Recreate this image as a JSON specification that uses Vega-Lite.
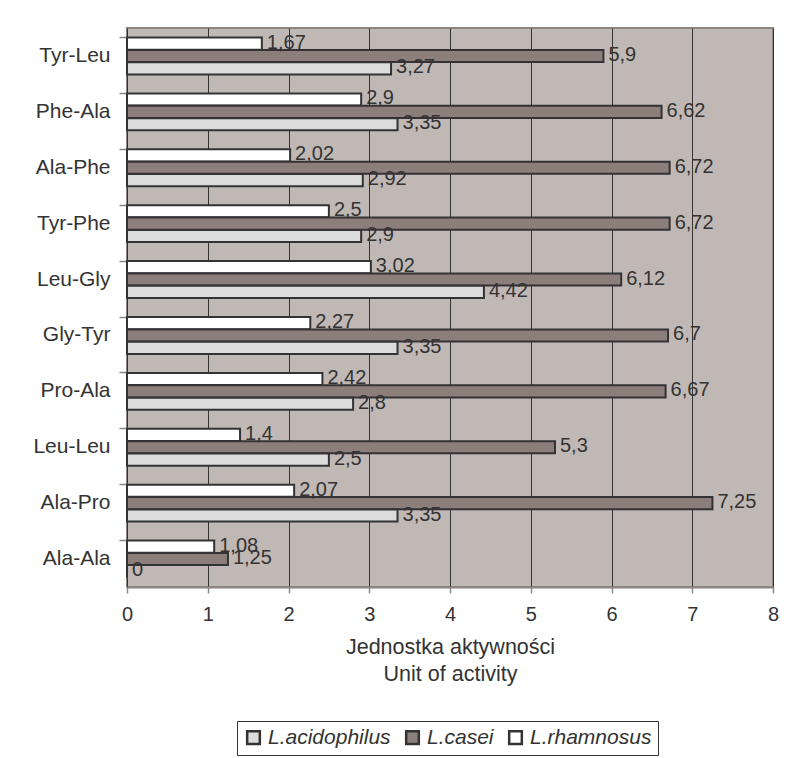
{
  "$schema": "https://vega.github.io/schema/vega-lite/v6.json",
  "autosize": "none",
  "width": 646,
  "height": 559,
  "padding": {"left": 127, "top": 28, "right": 17, "bottom": 171},
  "background": "white",
  "config": {
    "font": "Liberation Sans",
    "view": {"fill": "#C0B8B5", "stroke": "#8E8480", "strokeWidth": 2},
    "locale": {"number": {"decimal": ",", "thousands": " ", "grouping": [3], "currency": ["", ""]}},
    "axis": {"labelFont": "Liberation Sans", "labelFontSize": 21, "labelColor": "#333333", "titleFont": "Liberation Sans", "titleColor": "#333333"}
  },
  "data": {
    "values": [
      {"peptide": "Tyr-Leu", "strain": "L.rhamnosus", "value": 1.67},
      {"peptide": "Tyr-Leu", "strain": "L.casei", "value": 5.9},
      {"peptide": "Tyr-Leu", "strain": "L.acidophilus", "value": 3.27},
      {"peptide": "Phe-Ala", "strain": "L.rhamnosus", "value": 2.9},
      {"peptide": "Phe-Ala", "strain": "L.casei", "value": 6.62},
      {"peptide": "Phe-Ala", "strain": "L.acidophilus", "value": 3.35},
      {"peptide": "Ala-Phe", "strain": "L.rhamnosus", "value": 2.02},
      {"peptide": "Ala-Phe", "strain": "L.casei", "value": 6.72},
      {"peptide": "Ala-Phe", "strain": "L.acidophilus", "value": 2.92},
      {"peptide": "Tyr-Phe", "strain": "L.rhamnosus", "value": 2.5},
      {"peptide": "Tyr-Phe", "strain": "L.casei", "value": 6.72},
      {"peptide": "Tyr-Phe", "strain": "L.acidophilus", "value": 2.9},
      {"peptide": "Leu-Gly", "strain": "L.rhamnosus", "value": 3.02},
      {"peptide": "Leu-Gly", "strain": "L.casei", "value": 6.12},
      {"peptide": "Leu-Gly", "strain": "L.acidophilus", "value": 4.42},
      {"peptide": "Gly-Tyr", "strain": "L.rhamnosus", "value": 2.27},
      {"peptide": "Gly-Tyr", "strain": "L.casei", "value": 6.7},
      {"peptide": "Gly-Tyr", "strain": "L.acidophilus", "value": 3.35},
      {"peptide": "Pro-Ala", "strain": "L.rhamnosus", "value": 2.42},
      {"peptide": "Pro-Ala", "strain": "L.casei", "value": 6.67},
      {"peptide": "Pro-Ala", "strain": "L.acidophilus", "value": 2.8},
      {"peptide": "Leu-Leu", "strain": "L.rhamnosus", "value": 1.4},
      {"peptide": "Leu-Leu", "strain": "L.casei", "value": 5.3},
      {"peptide": "Leu-Leu", "strain": "L.acidophilus", "value": 2.5},
      {"peptide": "Ala-Pro", "strain": "L.rhamnosus", "value": 2.07},
      {"peptide": "Ala-Pro", "strain": "L.casei", "value": 7.25},
      {"peptide": "Ala-Pro", "strain": "L.acidophilus", "value": 3.35},
      {"peptide": "Ala-Ala", "strain": "L.rhamnosus", "value": 1.08},
      {"peptide": "Ala-Ala", "strain": "L.casei", "value": 1.25},
      {"peptide": "Ala-Ala", "strain": "L.acidophilus", "value": 0}
    ]
  },
  "encoding": {
    "y": {
      "field": "peptide", "type": "nominal",
      "sort": ["Tyr-Leu", "Phe-Ala", "Ala-Phe", "Tyr-Phe", "Leu-Gly", "Gly-Tyr", "Pro-Ala", "Leu-Leu", "Ala-Pro", "Ala-Ala"],
      "scale": {"paddingInner": 0.34, "paddingOuter": 0.17},
      "axis": {"title": null, "domain": false, "bandPosition": 0, "tickSize": 8, "tickColor": "#888888", "tickWidth": 1.5, "labelPadding": 9, "grid": false}
    },
    "yOffset": {
      "field": "strain", "type": "nominal",
      "sort": ["L.rhamnosus", "L.casei", "L.acidophilus"],
      "scale": {"paddingInner": 0.02}
    },
    "x": {
      "field": "value", "type": "quantitative",
      "scale": {"domain": [0, 8], "nice": false},
      "axis": {
        "values": [0, 1, 2, 3, 4, 5, 6, 7, 8],
        "grid": true, "gridColor": "#333333", "gridWidth": 1, "gridOpacity": 1,
        "domain": true, "domainColor": "#8E8480", "domainWidth": 2,
        "tickSize": 6, "tickColor": "#888888", "tickWidth": 1.5,
        "labelFontSize": 20, "labelPadding": 11, "labelFlush": false, "labelOverlap": false,
        "title": ["Jednostka aktywności", "Unit of activity"],
        "titleFontSize": 21.5, "titleFontWeight": "normal", "titlePadding": 12, "titleLineHeight": 27
      }
    }
  },
  "layer": [
    {
      "mark": {"type": "bar", "stroke": "#333333", "strokeWidth": 2},
      "encoding": {
        "fill": {
          "field": "strain", "type": "nominal",
          "scale": {"domain": ["L.acidophilus", "L.casei", "L.rhamnosus"], "range": ["#DCDCDC", "#8C7F7B", "#FFFFFF"]},
          "legend": {
            "title": null, "orient": "none", "direction": "horizontal",
            "legendX": 110, "legendY": 693,
            "strokeColor": "#333333", "padding": 6,
            "labelFont": "Liberation Sans", "labelFontSize": 21, "labelFontStyle": "italic", "labelColor": "#333333",
            "symbolType": "square", "symbolSize": 160, "symbolStrokeColor": "#333333", "symbolStrokeWidth": 2.5,
            "columnPadding": 10, "labelOffset": 4
          }
        }
      }
    },
    {
      "mark": {"type": "text", "align": "left", "baseline": "middle", "dx": 5, "dy": -1, "fontSize": 20, "color": "#333333", "font": "Liberation Sans"},
      "encoding": {
        "text": {"field": "value", "type": "quantitative", "format": ".3~g"}
      }
    }
  ]
}
